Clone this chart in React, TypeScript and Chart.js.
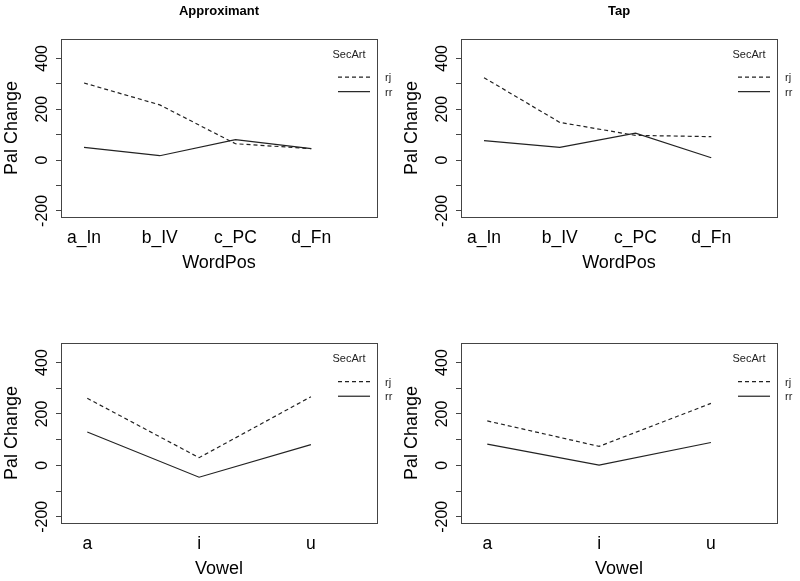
import React, { useEffect, useRef } from "react";
import { Chart, registerables } from "chart.js";
Chart.register(...registerables);

const FONT = "'Liberation Sans', Arial, Helvetica, sans-serif";

const wordPosCats = ["a_In", "b_IV", "c_PC", "d_Fn"];
const vowelCats = ["a", "i", "u"];
const seriesNames = ["rj", "rr"];
const legendTitle = "SecArt";
const yTitle = "Pal Change";
const panelTitles = ["Approximant", "Tap"];

const approxWordRj = [303, 217, 64, 45];
const approxWordRr = [50, 17, 80, 45];
const tapWordRj = [324, 148, 97, 92];
const tapWordRr = [76, 50, 106, 9];
const approxVowelRj = [261, 30, 267];
const approxVowelRr = [130, -46, 81];
const tapVowelRj = [173, 74, 241];
const tapVowelRr = [83, 1, 89];

const yTickLabels = [-200, 0, 200, 400];
const yTickMarks = [-200, -100, 0, 100, 200, 300, 400];
const yMin = -224;
const yMax = 476;

type PanelProps = {
  title?: string;
  cats: string[];
  rj: number[];
  rr: number[];
  xTitle: string;
  xMin: number;
  xMax: number;
  width: number;
  height: number;
  areaTop: number;
  areaBottom: number;
  left: number;
  top: number;
};

const AREA_LEFT = 61;
const AREA_RIGHT = 377;
const X_AXIS_H = 58;

function Panel(p: PanelProps) {
  const ref = useRef<HTMLCanvasElement | null>(null);
  useEffect(() => {
    if (!ref.current) return;
    const decor = {
      id: "rdecor",
      afterDraw(chart: any) {
        const ctx = chart.ctx;
        const a = chart.chartArea;
        const ys = chart.scales.y;
        ctx.save();
        // box
        ctx.strokeStyle = "#444";
        ctx.lineWidth = 1;
        ctx.strokeRect(Math.round(a.left) + 0.5, Math.round(a.top) + 0.5, Math.round(a.right - a.left), Math.round(a.bottom - a.top));
        // y tick labels rotated
        ctx.fillStyle = "#000";
        ctx.font = `16px ${FONT}`;
        ctx.textAlign = "center";
        ctx.textBaseline = "middle";
        for (const v of yTickLabels) {
          const y = ys.getPixelForValue(v);
          ctx.save();
          ctx.translate(42.5, y);
          ctx.rotate(-Math.PI / 2);
          ctx.fillText(String(v), 0, 0);
          ctx.restore();
        }
        // title
        if (p.title) {
          ctx.font = `bold 13px ${FONT}`;
          ctx.textAlign = "center";
          ctx.textBaseline = "middle";
          ctx.fillText(p.title, (a.left + a.right) / 2, 11.5);
        }
        // legend
        ctx.font = `11px ${FONT}`;
        ctx.textAlign = "center";
        ctx.textBaseline = "middle";
        ctx.fillStyle = "#222";
        ctx.fillText(legendTitle, a.right - 28, ys.getPixelForValue(415));
        const legY = [ys.getPixelForValue(326), ys.getPixelForValue(269)];
        const dashes = [[4, 3], []];
        ctx.strokeStyle = "#222";
        ctx.lineWidth = 1.2;
        for (let i = 0; i < 2; i++) {
          ctx.setLineDash(dashes[i]);
          ctx.beginPath();
          ctx.moveTo(a.right - 39, legY[i]);
          ctx.lineTo(a.right - 7, legY[i]);
          ctx.stroke();
          ctx.setLineDash([]);
          ctx.textAlign = "left";
          ctx.fillText(seriesNames[i], a.right + 8, legY[i] + 1);
        }
        ctx.restore();
      },
    };
    const chart = new Chart(ref.current, {
      type: "line",
      data: {
        datasets: [
          {
            label: seriesNames[0],
            data: p.rj.map((v, i) => ({ x: i + 1, y: v })),
            borderColor: "#222",
            borderWidth: 1.2,
            borderDash: [4, 3],
            pointRadius: 0,
            fill: false,
            tension: 0,
          },
          {
            label: seriesNames[1],
            data: p.rr.map((v, i) => ({ x: i + 1, y: v })),
            borderColor: "#222",
            borderWidth: 1.2,
            pointRadius: 0,
            fill: false,
            tension: 0,
          },
        ],
      },
      options: {
        responsive: false,
        animation: false,
        events: [],
        layout: {
          padding: {
            top: p.areaTop,
            right: p.width - AREA_RIGHT,
            bottom: p.height - p.areaBottom - X_AXIS_H,
            left: 0,
          },
        },
        plugins: {
          legend: { display: false },
          tooltip: { enabled: false },
          title: { display: false },
        },
        scales: {
          x: {
            type: "linear",
            min: p.xMin,
            max: p.xMax,
            grid: { display: false, drawTicks: false },
            border: { display: false },
            afterBuildTicks: (s: any) => {
              s.ticks = p.cats.map((_, i) => ({ value: i + 1 }));
            },
            afterFit: (s: any) => {
              s.height = X_AXIS_H;
            },
            ticks: {
              callback: (v: any) => p.cats[Number(v) - 1] ?? "",
              font: { family: FONT, size: 17.5 },
              color: "#000",
              padding: 11,
              autoSkip: false,
              maxRotation: 0,
              minRotation: 0,
            },
            title: {
              display: true,
              text: p.xTitle,
              font: { family: FONT, size: 18 },
              color: "#000",
              padding: { top: 0, bottom: 1 },
            },
          },
          y: {
            type: "linear",
            min: yMin,
            max: yMax,
            afterBuildTicks: (s: any) => {
              s.ticks = yTickMarks.map((v) => ({ value: v }));
            },
            afterFit: (s: any) => {
              s.width = AREA_LEFT;
            },
            ticks: { display: false },
            grid: { drawOnChartArea: false, drawTicks: true, tickLength: 5, color: "#444" },
            border: { display: true, color: "#444" },
            title: {
              display: true,
              text: yTitle,
              font: { family: FONT, size: 18 },
              color: "#000",
              padding: { top: 1, bottom: 0 },
            },
          },
        },
      },
      plugins: [decor],
    } as any);
    return () => chart.destroy();
  }, []);
  return (
    <canvas
      ref={ref}
      width={p.width}
      height={p.height}
      style={{ position: "absolute", left: p.left, top: p.top, width: p.width, height: p.height }}
    />
  );
}

export default function App() {
  return (
    <div style={{ position: "absolute", left: 0, top: 0, width: 800, height: 581, background: "#fff", overflow: "hidden" }}>
      <Panel title={panelTitles[0]} cats={wordPosCats} rj={approxWordRj} rr={approxWordRr} xTitle="WordPos"
        xMin={0.696} xMax={4.868} width={400} height={290} areaTop={39} areaBottom={217} left={0} top={0} />
      <Panel title={panelTitles[1]} cats={wordPosCats} rj={tapWordRj} rr={tapWordRr} xTitle="WordPos"
        xMin={0.696} xMax={4.868} width={400} height={290} areaTop={39} areaBottom={217} left={400} top={0} />
      <Panel cats={vowelCats} rj={approxVowelRj} rr={approxVowelRr} xTitle="Vowel"
        xMin={0.765} xMax={3.591} width={400} height={291} areaTop={53} areaBottom={233} left={0} top={290} />
      <Panel cats={vowelCats} rj={tapVowelRj} rr={tapVowelRr} xTitle="Vowel"
        xMin={0.765} xMax={3.591} width={400} height={291} areaTop={53} areaBottom={233} left={400} top={290} />
    </div>
  );
}
